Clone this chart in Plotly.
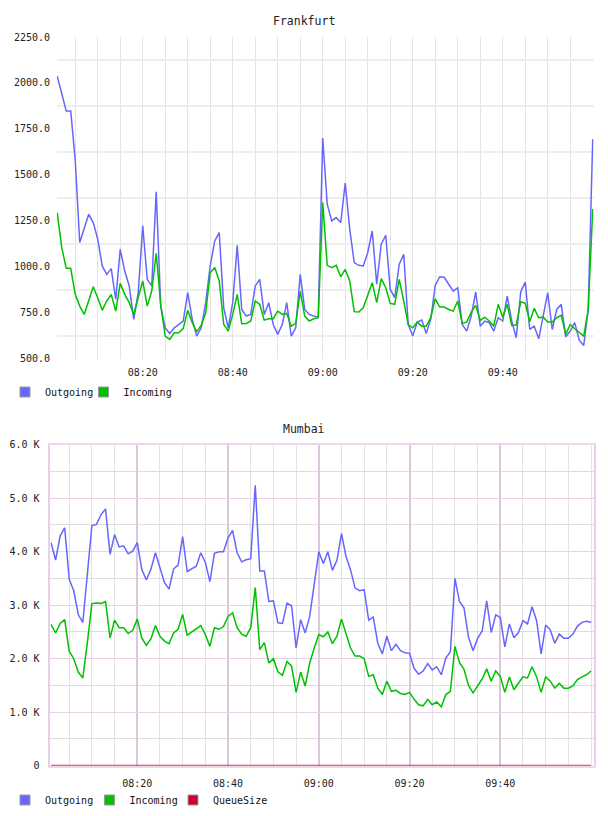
import pandas as pd
import plotly.graph_objects as go

W, H = 608, 816

# --- data -------------------------------------------------------------
times = pd.date_range("2024-05-14 08:01", periods=120, freq="min")

fra_outgoing = [2037, 1942, 1847, 1847, 1580, 1131, 1210, 1285, 1240, 1149,
                1004, 958, 989, 822, 1094, 976, 895, 713, 858, 1222,
                931, 895, 1407, 785, 667, 636, 667, 685, 704, 858,
                713, 622, 667, 804, 1004, 1140, 1185, 776, 667, 804,
                1116, 767, 731, 740, 895, 931, 740, 804, 685, 631,
                685, 804, 622, 667, 958, 767, 740, 731, 725, 1700,
                1340, 1249, 1267, 1240, 1455, 1204, 1022, 1007, 1004, 1076,
                1194, 904, 1122, 1171, 876, 831, 1013, 1067, 685, 622,
                698, 709, 636, 713, 898, 945, 942, 904, 867, 885,
                685, 649, 731, 862, 676, 704, 695, 649, 722, 704,
                840, 704, 613, 862, 916, 658, 676, 607, 740, 858,
                658, 767, 795, 618, 649, 695, 600, 571, 767, 1694]

fra_incoming = [1294, 1104, 991, 991, 849, 785, 740, 813, 891, 831,
                762, 813, 849, 758, 909, 849, 804, 740, 831, 922,
                785, 867, 1073, 790, 622, 604, 640, 640, 664, 762,
                695, 645, 682, 749, 967, 995, 922, 685, 649, 740,
                849, 689, 691, 704, 813, 795, 709, 716, 716, 758,
                740, 745, 676, 691, 867, 731, 704, 716, 722, 1349,
                1007, 995, 1007, 945, 985, 922, 755, 753, 776, 849,
                913, 804, 935, 885, 800, 795, 931, 813, 685, 667,
                698, 676, 676, 722, 825, 780, 780, 767, 758, 813,
                691, 698, 753, 789, 707, 725, 704, 676, 795, 725,
                795, 680, 682, 809, 800, 700, 773, 722, 725, 698,
                698, 722, 735, 631, 685, 662, 644, 622, 767, 1313]

mum_outgoing = [4167, 3845, 4291, 4446, 3486, 3269, 2826, 2680, 3580, 4490,
                4510, 4690, 4800, 3950, 4320, 4090, 4110, 3960, 4010, 4170,
                3670, 3470, 3670, 3980, 3700, 3420, 3300, 3680, 3750, 4280,
                3630, 3680, 3730, 3980, 3800, 3440, 3970, 4000, 4000, 4260,
                4400, 3980, 3810, 3850, 3870, 5240, 3640, 3640, 3070, 3080,
                2670, 2660, 3040, 2990, 2200, 2730, 2480, 2790, 3350, 4000,
                3780, 4000, 3650, 3840, 4340, 3910, 3660, 3320, 3270, 3290,
                2720, 2780, 2290, 2090, 2420, 2150, 2270, 2150, 2110, 2100,
                1820, 1710, 1770, 1910, 1790, 1850, 1700, 2010, 2130, 3500,
                3070, 2950, 2400, 2150, 2380, 2520, 3080, 2490, 2820, 2770,
                2220, 2650, 2390, 2490, 2710, 2650, 2970, 2710, 2090, 2630,
                2540, 2290, 2460, 2380, 2380, 2460, 2610, 2680, 2700, 2680]

mum_incoming = [2640, 2480, 2660, 2730, 2140, 2000, 1750, 1640, 2300, 3030,
                3040, 3030, 3070, 2390, 2720, 2580, 2580, 2470, 2530, 2740,
                2390, 2250, 2370, 2620, 2420, 2330, 2280, 2480, 2550, 2830,
                2440, 2500, 2560, 2620, 2450, 2230, 2580, 2550, 2600, 2790,
                2860, 2580, 2460, 2420, 2580, 3330, 2170, 2300, 1920, 2000,
                1750, 1690, 1950, 1860, 1370, 1750, 1490, 1920, 2200, 2450,
                2410, 2500, 2280, 2420, 2740, 2450, 2200, 2050, 2050, 2000,
                1670, 1700, 1450, 1330, 1580, 1390, 1410, 1350, 1330, 1370,
                1240, 1140, 1120, 1240, 1140, 1190, 1100, 1330, 1390, 2230,
                1930, 1800, 1500, 1360, 1500, 1620, 1810, 1580, 1770, 1670,
                1370, 1660, 1420, 1550, 1660, 1640, 1850, 1660, 1370, 1660,
                1580, 1450, 1540, 1450, 1450, 1490, 1610, 1660, 1700, 1770]

mum_queuesize = [0] * len(times)

x_tickvals = ["2024-05-14 08:20", "2024-05-14 08:40", "2024-05-14 09:00",
              "2024-05-14 09:20", "2024-05-14 09:40"]
x_ticktext = ["08:20", "08:40", "09:00", "09:20", "09:40"]
fra_yticks = [500, 750, 1000, 1250, 1500, 1750, 2000, 2250]
mum_yticks = [0, 1000, 2000, 3000, 4000, 5000, 6000]
mum_yticktext = ["0", "1.0 K", "2.0 K", "3.0 K", "4.0 K", "5.0 K", "6.0 K"]

# --- styling ----------------------------------------------------------
C_OUT = "#6666ff"
C_IN = "#00c000"
C_Q = "#cc0033"
FONT = "DejaVu Sans Mono"


def px_x(p):
    return p / W


def px_y(p):
    return 1 - p / H


fig = go.Figure()

# Frankfurt
fig.add_trace(go.Scatter(x=times, y=fra_outgoing, mode="lines", name="Outgoing",
                         line=dict(color=C_OUT, width=1.5), showlegend=False,
                         xaxis="x", yaxis="y"))
fig.add_trace(go.Scatter(x=times, y=fra_incoming, mode="lines", name="Incoming",
                         line=dict(color=C_IN, width=1.5), showlegend=False,
                         xaxis="x", yaxis="y"))
# Mumbai
fig.add_trace(go.Scatter(x=times, y=mum_outgoing, mode="lines", name="Outgoing",
                         line=dict(color=C_OUT, width=1.5), showlegend=False,
                         xaxis="x2", yaxis="y2"))
fig.add_trace(go.Scatter(x=times, y=mum_incoming, mode="lines", name="Incoming",
                         line=dict(color=C_IN, width=1.5), showlegend=False,
                         xaxis="x2", yaxis="y2"))
fig.add_trace(go.Scatter(x=times, y=mum_queuesize, mode="lines", name="QueueSize",
                         line=dict(color="#d83062", width=2), showlegend=False,
                         cliponaxis=False, xaxis="x2", yaxis="y2"))

# legend entries (square swatches), one legend per entry for exact placement
legend_items = [
    ("Outgoing", C_OUT, "legend", "x", "y", 5, 392),
    ("Incoming", C_IN, "legend2", "x", "y", 83.5, 392),
    ("Outgoing", C_OUT, "legend3", "x2", "y2", 5, 800),
    ("Incoming", C_IN, "legend4", "x2", "y2", 89.5, 800),
    ("QueueSize", C_Q, "legend5", "x2", "y2", 173, 800),
]
legend_layout = {}
for name, color, lg, xa, ya, lx, ly in legend_items:
    fig.add_trace(go.Scatter(x=[None], y=[None], mode="markers", name=name,
                             marker=dict(symbol="square", size=10, color=color,
                                         line=dict(color="#999999", width=1)),
                             legend=lg, xaxis=xa, yaxis=ya))
    legend_layout[lg] = dict(orientation="h", x=px_x(lx), xanchor="left",
                             y=px_y(ly), yanchor="middle",
                             font=dict(family=FONT, size=10, color="#111111"),
                             bgcolor="rgba(0,0,0,0)", borderwidth=0,
                             itemclick=False, itemdoubleclick=False)

tickfont = dict(family=FONT, size=10, color="#222222")

fig.update_layout(
    width=W, height=H,
    margin=dict(l=0, r=0, t=0, b=0, pad=0, autoexpand=False),
    paper_bgcolor="white", plot_bgcolor="white",
    font=dict(family=FONT, size=10, color="#222222"),
    xaxis=dict(
        domain=[px_x(57), px_x(593.7)],
        anchor="y", automargin=False,
        type="date",
        range=["2024-05-14 08:00:57", "2024-05-14 10:00:13"],
        tickmode="array", tickvals=x_tickvals, ticktext=x_ticktext,
        showgrid=True, gridcolor="#e4e4e4", gridwidth=1,
        minor=dict(tickmode="linear", dtick=5 * 60 * 1000,
                   tick0="2024-05-14 08:00",
                   showgrid=True, gridcolor="#e4e4e4", gridwidth=1),
        showline=False, zeroline=False, ticks="",
        tickfont=tickfont, ticklabelstandoff=6,
    ),
    yaxis=dict(
        domain=[px_y(358.5), px_y(37)],
        anchor="x", automargin=False,
        range=[500, 2250],
        tickmode="array", tickvals=fra_yticks, tickformat=".1f",
        showgrid=False,
        minor=dict(tickmode="linear", tick0=625, dtick=250, showgrid=True,
                   gridcolor="#eeeeee", gridwidth=2),
        showline=False, zeroline=False, ticks="",
        tickfont=tickfont, ticklabelstandoff=6,
    ),
    xaxis2=dict(
        domain=[px_x(50.3), px_x(593.7)],
        anchor="y2", automargin=False,
        type="date",
        range=["2024-05-14 08:00:50", "2024-05-14 10:00:35"],
        tickmode="array", tickvals=x_tickvals, ticktext=x_ticktext,
        showgrid=True, gridcolor="#dcc6dc", gridwidth=1.5,
        minor=dict(tickmode="linear", dtick=5 * 60 * 1000,
                   tick0="2024-05-14 08:00",
                   showgrid=True, gridcolor="#e2e2e2", gridwidth=1),
        showline=True, linecolor="#ecd8ec", linewidth=2, mirror=True,
        layer="below traces",
        zeroline=False, ticks="",
        tickfont=tickfont, ticklabelstandoff=7,
    ),
    yaxis2=dict(
        domain=[px_y(765.7), px_y(444.7)],
        anchor="x2", automargin=False,
        range=[0, 6000],
        tickmode="array", tickvals=mum_yticks, ticktext=mum_yticktext,
        showgrid=True, gridcolor="#e8d2e8", gridwidth=1,
        minor=dict(tickmode="linear", tick0=500, dtick=1000, showgrid=True,
                   gridcolor="#dddddd", gridwidth=1),
        showline=True, linecolor="#e8d0e8", linewidth=1.5, mirror=True,
        layer="below traces",
        zeroline=False, ticks="",
        tickfont=tickfont, ticklabelstandoff=7,
    ),
    annotations=[
        dict(text="Frankfurt", x=0.5, y=px_y(20.5), xref="paper", yref="paper",
             showarrow=False, xanchor="center", yanchor="middle",
             font=dict(family=FONT, size=11.5, color="#222222")),
        dict(text="Mumbai", x=0.5, y=px_y(429), xref="paper", yref="paper",
             showarrow=False, xanchor="center", yanchor="middle",
             font=dict(family=FONT, size=11.5, color="#222222")),
    ],
    **legend_layout,
)

fig.write_html("out.html")
